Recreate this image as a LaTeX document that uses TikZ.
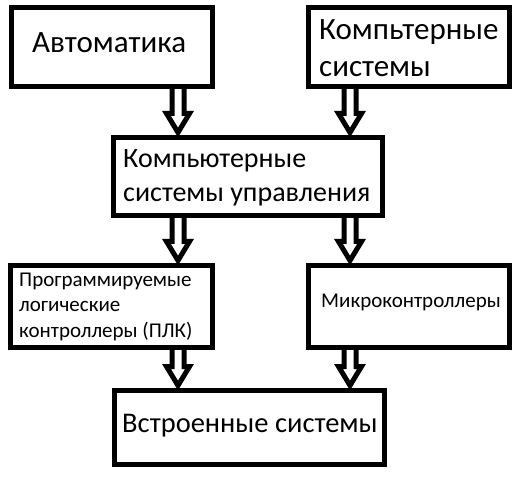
\documentclass[tikz,border=0pt]{standalone}
\usepackage{fontspec}
\setmainfont{Carlito}
\usetikzlibrary{calc}
\tikzset{
  box/.style={draw, line width=5pt, inner sep=0pt, outer sep=0pt},
  lbl/.style={inner sep=0pt, anchor=base west, align=left},
  bigfont/.style={font=\fontsize{31pt}{37.8pt}\selectfont},
  midfont/.style={font=\fontsize{28pt}{34pt}\selectfont},
  smallfont/.style={font=\fontsize{21pt}{25.3pt}\selectfont},
  fatarrow/.style={line width=5pt, line join=miter,
    to path={let \p1=(\tikztostart), \p2=(\tikztotarget) in
      (\x1-6pt,\y1) -- (\x1-6pt,\y2+24pt) -- (\x1-11.5pt,\y2+24pt) -- (\x2,\y2+5pt)
      -- (\x1+11.5pt,\y2+24pt) -- (\x1+6pt,\y2+24pt) -- (\x1+6pt,\y1)}}
}
\begin{document}
\begin{tikzpicture}[x=1pt, y=-1pt, line join=miter]
  \useasboundingbox (0,0) rectangle (519,478);
  % boxes
  \node[box, minimum width=201pt, minimum height=79pt] (auto) at (112,47) {};
  \node[box, minimum width=201pt, minimum height=79pt] (comp) at (409,47) {};
  \node[box, minimum width=269.5pt, minimum height=78pt] (csu) at (247.75,176.5) {};
  \node[box, minimum width=202pt, minimum height=82pt] (plc) at (111.5,306.5) {};
  \node[box, minimum width=201pt, minimum height=82pt] (mcu) at (409,306.5) {};
  \node[box, minimum width=270pt, minimum height=74pt] (emb) at (249.5,427.5) {};
  % texts (base = last line)
  \node[lbl, bigfont] (autotext) at (32,53) {Автоматика};
  \node[lbl, bigfont] (comptext) at (319,77) {Компьтерные\\системы};
  \node[lbl, midfont] (csutext) at (123,202) {Компьютерные\\системы управления};
  \node[lbl, smallfont] (plctext) at (19,337) {Программируемые\\логические\\контроллеры (ПЛК)};
  \node[lbl, smallfont] (mcutext) at (321,307) {Микроконтроллеры};
  \node[lbl, font=\fontsize{28.5pt}{34pt}\selectfont] (embtext) at (122,432) {Встроенные системы};
  % arrows
  \coordinate (lx) at (178,0);
  \coordinate (rx) at (350,0);
  \draw[fatarrow] (auto.south -| lx) to (csu.north -| lx);
  \draw[fatarrow] (comp.south -| rx) to (csu.north -| rx);
  \draw[fatarrow] (csu.south -| lx) to (plc.north -| lx);
  \draw[fatarrow] (csu.south -| rx) to (mcu.north -| rx);
  \draw[fatarrow] (plc.south -| lx) to (emb.north -| lx);
  \draw[fatarrow] (mcu.south -| rx) to (emb.north -| rx);
\end{tikzpicture}
\end{document}
